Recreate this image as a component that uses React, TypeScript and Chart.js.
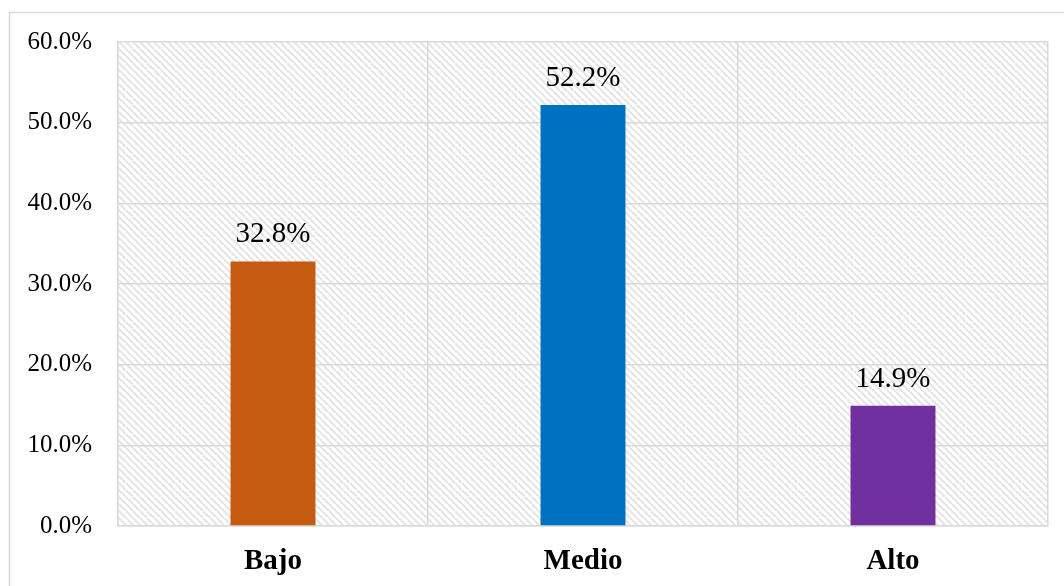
import React, { useEffect, useRef } from "react";
import { Chart, registerables } from "chart.js";

Chart.register(...registerables);

const categories = ["Bajo", "Medio", "Alto"];
const values = [32.8, 52.2, 14.9];
const barColors = ["#C55A11", "#0070C0", "#7030A0"];
const yTicks = [0, 10, 20, 30, 40, 50, 60];

const SERIF = "'Liberation Serif', 'Times New Roman', serif";

function makePattern(): CanvasPattern | string {
  const c = document.createElement("canvas");
  c.width = 7;
  c.height = 7;
  const ctx = c.getContext("2d");
  if (!ctx) return "#ffffff";
  ctx.fillStyle = "#ffffff";
  ctx.fillRect(0, 0, 7, 7);
  ctx.strokeStyle = "#e2e2e2";
  ctx.lineWidth = 1.8;
  ctx.beginPath();
  for (let k = -14; k <= 14; k += 7) {
    ctx.moveTo(k, 0);
    ctx.lineTo(k + 7, 7);
  }
  ctx.stroke();
  const p = ctx.createPattern(c, "repeat");
  return p || "#ffffff";
}

const bgPlugin = {
  id: "bgPlugin",
  beforeDraw(chart: any) {
    const { ctx, chartArea } = chart;
    ctx.save();
    ctx.fillStyle = "#ffffff";
    ctx.fillRect(0, 0, chart.width, chart.height);
    ctx.strokeStyle = "#d9d9d9";
    ctx.lineWidth = 1.5;
    ctx.strokeRect(9.5, 12.5, 1200, 800);
    ctx.fillStyle = makePattern();
    ctx.fillRect(chartArea.left, chartArea.top, chartArea.right - chartArea.left, chartArea.bottom - chartArea.top);
    ctx.restore();
  },
  afterDatasetsDraw(chart: any) {
    const { ctx } = chart;
    const meta = chart.getDatasetMeta(0);
    ctx.save();
    ctx.fillStyle = "#000000";
    ctx.font = "29px " + SERIF;
    ctx.textAlign = "center";
    ctx.textBaseline = "alphabetic";
    meta.data.forEach((el: any, i: number) => {
      ctx.fillText(values[i].toFixed(1) + "%", el.x, el.y - 19);
    });
    ctx.restore();
  },
};

export default function App() {
  const ref = useRef<HTMLCanvasElement | null>(null);
  useEffect(() => {
    if (!ref.current) return;
    const chart = new Chart(ref.current, {
      type: "bar",
      data: {
        labels: categories,
        datasets: [
          {
            data: values,
            backgroundColor: barColors,
            borderWidth: 0,
            barPercentage: 0.274,
            categoryPercentage: 1,
          },
        ],
      },
      options: {
        animation: false,
        responsive: false,
        maintainAspectRatio: false,
        layout: { padding: { top: 42, right: 16, left: 0, bottom: 0 } },
        plugins: { legend: { display: false }, tooltip: { enabled: false } },
        scales: {
          x: {
            grid: { color: "#d9d9d9", lineWidth: 1.5, drawTicks: false, offset: true },
            border: { color: "#d9d9d9", width: 1.5 },
            ticks: {
              color: "#000000",
              padding: 18,
              font: { family: SERIF, size: 29, weight: "bold" },
            },
            afterFit: (s: any) => {
              s.height = 60;
            },
          },
          y: {
            min: 0,
            max: 60,
            afterBuildTicks: (s: any) => {
              s.ticks = yTicks.map((v) => ({ value: v }));
            },
            grid: { color: "#d9d9d9", lineWidth: 1.5, drawTicks: false },
            border: { color: "#d9d9d9", width: 1.5 },
            ticks: {
              color: "#000000",
              padding: 26,
              font: { family: SERIF, size: 25 },
              callback: (v: any) => Number(v).toFixed(1) + "%",
            },
            afterFit: (s: any) => {
              s.width = 118;
            },
          },
        },
      },
      plugins: [bgPlugin],
    });
    return () => chart.destroy();
  }, []);
  return (
    <div style={{ position: "fixed", left: 0, top: 0, width: 1064, height: 586 }}>
      <canvas ref={ref} width={1064} height={586} style={{ display: "block" }} />
    </div>
  );
}
